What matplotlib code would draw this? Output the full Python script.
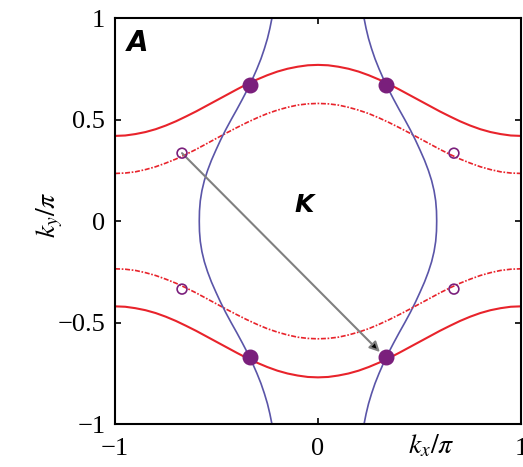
import numpy as np
import matplotlib.pyplot as plt

plt.rcParams['mathtext.fontset'] = 'stix'

# =========================
# DATA (right half; curves are mirror-symmetric)
# =========================
kx_half = [0.0, 0.05, 0.10, 0.15, 0.20, 0.25, 0.30, 0.35, 0.40, 0.45, 0.50,
           0.55, 0.60, 0.65, 0.70, 0.75, 0.80, 0.85, 0.90, 0.95, 1.0]
# red solid (upper branch)
red_solid = [0.770, 0.768, 0.761, 0.751, 0.737, 0.719, 0.698, 0.675, 0.649, 0.622, 0.595,
             0.568, 0.541, 0.516, 0.492, 0.471, 0.453, 0.439, 0.429, 0.422, 0.420]
# red dotted (upper branch)
red_dot = [0.580, 0.578, 0.572, 0.561, 0.547, 0.530, 0.509, 0.486, 0.461, 0.435, 0.408,
           0.381, 0.354, 0.329, 0.306, 0.286, 0.268, 0.254, 0.243, 0.237, 0.235]

ky_half = [0.0, 0.05, 0.10, 0.15, 0.20, 0.25, 0.30, 0.35, 0.40, 0.45, 0.50,
           0.55, 0.60, 0.65, 0.70, 0.75, 0.80, 0.85, 0.90, 0.95, 1.0]
# blue (right branch, kx as function of ky)
blue = [0.585, 0.584, 0.580, 0.572, 0.560, 0.544, 0.525, 0.503, 0.480, 0.455, 0.428,
        0.400, 0.373, 0.347, 0.323, 0.301, 0.281, 0.264, 0.249, 0.237, 0.227]

# intersection points
filled_x = [-0.335, 0.335, -0.335, 0.335]
filled_y = [0.67, 0.67, -0.67, -0.67]
open_x = [-0.67, 0.67, -0.67, 0.67]
open_y = [0.335, 0.335, -0.335, -0.335]

arrow_start = (-0.67, 0.335)
arrow_end = (0.305, -0.645)

# full curves from the half data
kx = np.concatenate([-np.array(kx_half[::-1]), np.array(kx_half[1:])])
rs = np.concatenate([red_solid[::-1], red_solid[1:]])
rd = np.concatenate([red_dot[::-1], red_dot[1:]])
ky = np.concatenate([-np.array(ky_half[::-1]), np.array(ky_half[1:])])
bl = np.concatenate([blue[::-1], blue[1:]])

# =========================
# PLOT
# =========================
fig = plt.figure(figsize=(5.23, 4.67), dpi=100)
ax = fig.add_axes([0.22, 0.092, 0.776, 0.869])

red = '#e8232b'
blu = '#5a55a8'
purple = '#7a1f7c'

for s in (1, -1):
    ax.plot(kx, s * rs, color=red, lw=1.5)
    ax.plot(kx, s * rd, color=red, lw=1.2, ls=(0, (3, 1, 1, 1)))
    ax.plot(s * bl, ky, color=blu, lw=1.2)

ax.annotate('', xy=arrow_end, xytext=arrow_start,
            arrowprops=dict(arrowstyle='-|>', fc='black', ec='#808080', lw=1.5,
                            mutation_scale=15, shrinkA=0, shrinkB=0))

ax.scatter(filled_x, filled_y, s=110, color=purple, zorder=5)
ax.scatter(open_x, open_y, s=50, facecolor='none', edgecolor=purple, lw=1.2, zorder=5)

ax.text(-0.07, 0.08, 'K', fontsize=18, fontweight='bold', fontstyle='italic',
        family='DejaVu Sans', ha='center', va='center')
ax.text(0.055, 0.94, 'A', fontsize=20, fontweight='bold', fontstyle='italic',
        family='DejaVu Sans', ha='center', va='center', transform=ax.transAxes)

ax.set_xlim(-1, 1)
ax.set_ylim(-1, 1)
ax.set_xticks([-1, 0, 1])
ax.set_yticks([-1, -0.5, 0, 0.5, 1])
ax.set_xticklabels(['\u22121', '0', '1'])
ax.set_yticklabels(['\u22121', '\u22120.5', '0', '0.5', '1'])
ax.tick_params(direction='in', length=4, width=1.2, top=True, right=True,
               labelsize=19, pad=7)
ax.tick_params(axis='x', pad=10)
for lab in ax.get_xticklabels() + ax.get_yticklabels():
    lab.set_family('Liberation Serif')
for sp in ax.spines.values():
    sp.set_linewidth(1.5)

ax.text(0.78, -0.052, r'$k_x/\pi$', fontsize=20, ha='center', va='center',
        transform=ax.transAxes)
ax.text(-0.16, 0.515, r'$k_y/\pi$', fontsize=20, ha='center', va='center',
        rotation=90, transform=ax.transAxes)

fig.savefig('out.png', dpi=100)
